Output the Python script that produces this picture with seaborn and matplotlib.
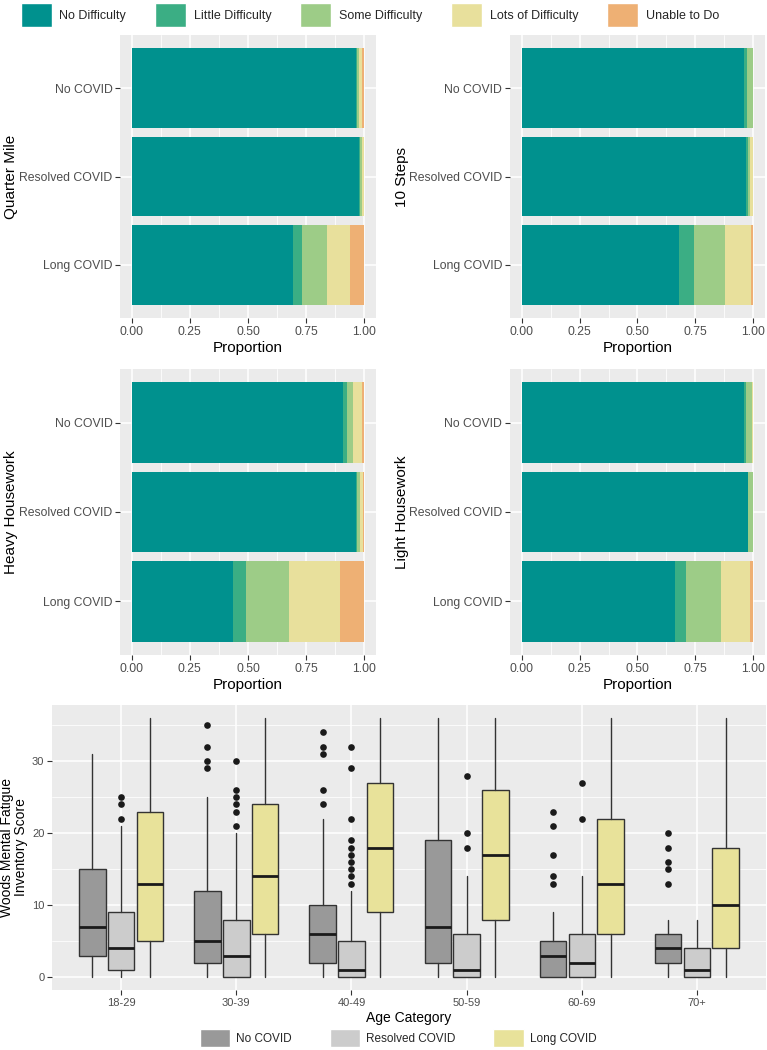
import numpy as np
import pandas as pd
import matplotlib
matplotlib.use("Agg")
import matplotlib.pyplot as plt
import seaborn as sns
from matplotlib.patches import Patch
from matplotlib.ticker import MultipleLocator

# difficulty levels and groups
levels = ["No Difficulty", "Little Difficulty", "Some Difficulty", "Lots of Difficulty", "Unable to Do"]
level_colors = ["#00918E", "#3BAE84", "#9DCC87", "#E8E09C", "#EEB074"]
groups = ["No COVID", "Resolved COVID", "Long COVID"]

# proportions per group (rows: No, Resolved, Long COVID)
quarter_mile = [[0.963, 0.005, 0.010, 0.013, 0.009],
                [0.977, 0.006, 0.008, 0.006, 0.003],
                [0.691, 0.040, 0.107, 0.102, 0.060]]
ten_steps = [[0.960, 0.013, 0.025, 0.001, 0.001],
             [0.969, 0.009, 0.008, 0.011, 0.003],
             [0.679, 0.063, 0.137, 0.110, 0.011]]
heavy_housework = [[0.906, 0.021, 0.022, 0.042, 0.009],
                   [0.962, 0.008, 0.011, 0.015, 0.004],
                   [0.437, 0.054, 0.183, 0.220, 0.106]]
light_housework = [[0.961, 0.006, 0.026, 0.007, 0.000],
                   [0.975, 0.003, 0.019, 0.002, 0.001],
                   [0.663, 0.047, 0.151, 0.125, 0.014]]

# fatigue score summaries by age
ages = ["18-29", "30-39", "40-49", "50-59", "60-69", "70+"]
status = ["No COVID", "Resolved COVID", "Long COVID"]
status_colors = ["#999999", "#CCCCCC", "#E8E29A"]

no_covid_lo = [0, 0, 0, 0, 0, 0]
no_covid_q1 = [3, 2, 2, 2, 0, 2]
no_covid_med = [7, 5, 6, 7, 3, 4]
no_covid_q3 = [15, 12, 10, 19, 5, 6]
no_covid_hi = [31, 25, 22, 36, 9, 8]
no_covid_fliers = [[], [35, 32, 30, 29], [34, 32, 31, 26, 24], [],
                   [23, 21, 17, 14, 13], [20, 18, 16, 15, 13]]

resolved_lo = [0, 0, 0, 0, 0, 0]
resolved_q1 = [1, 0, 0, 0, 0, 0]
resolved_med = [4, 3, 1, 1, 2, 1]
resolved_q3 = [9, 8, 5, 6, 6, 4]
resolved_hi = [21, 20, 12, 14, 14, 8]
resolved_fliers = [[25, 24, 22], [30, 26, 25, 24, 23, 21],
                   [32, 29, 22, 19, 18, 17, 16, 15, 14, 13],
                   [28, 20, 18], [27, 22], []]

long_lo = [0, 0, 0, 0, 0, 0]
long_q1 = [5, 6, 9, 8, 6, 4]
long_med = [13, 14, 18, 17, 13, 10]
long_q3 = [23, 24, 27, 26, 22, 18]
long_hi = [36, 36, 36, 36, 36, 36]
long_fliers = [[], [], [], [], [], []]

sns.set_theme(style="darkgrid", rc={"axes.facecolor": "#EBEBEB", "grid.color": "white"})
plt.rcParams['font.family'] = ['Liberation Sans', 'DejaVu Sans']

fig = plt.figure(figsize=(7.67, 10.5), dpi=100)

def style_ax(ax, labelsize):
    for s in ax.spines.values():
        s.set_visible(False)
    ax.set_axisbelow(True)
    ax.tick_params(which='major', bottom=True, left=True, length=3.5, width=0.8,
                   color='#333333', labelcolor='#4D4D4D', pad=2, labelsize=labelsize)
    ax.tick_params(which='minor', length=0)
    ax.grid(which='major', color='white', linewidth=1.1)
    ax.grid(which='minor', color='white', linewidth=0.55)

def bar_panel(rect, data, ylabel, label_x):
    ax = fig.add_axes(rect)
    df = pd.DataFrame(data, columns=levels)
    df['group'] = groups
    cum = df[levels].cumsum(axis=1)
    for lev, col in reversed(list(zip(levels, level_colors))):
        sns.barplot(x=cum[lev], y=df['group'], color=col, orient='h', width=0.9,
                    linewidth=0, saturation=1, errorbar=None, ax=ax)
    ax.set_xlim(-0.05, 1.05)
    ax.set_ylim(2.6, -0.6)
    ax.set_xticks([0, 0.25, 0.5, 0.75, 1.0])
    ax.set_xticklabels(["0.00", "0.25", "0.50", "0.75", "1.00"])
    ax.xaxis.set_minor_locator(MultipleLocator(0.125))
    style_ax(ax, 8.8)
    ax.yaxis.grid(True, which='major', color='white', linewidth=1.1)
    ax.set_xlabel("Proportion", fontsize=11, color='black')
    ax.xaxis.set_label_coords(0.5, -0.08)
    ax.set_ylabel(ylabel, fontsize=11, color='black')
    ax.yaxis.set_label_coords(label_x, 0.5)
    return ax

bar_panel([0.1565, 0.6971, 0.3338, 0.2695], quarter_mile, "Quarter Mile", -0.40)
bar_panel([0.6649, 0.6971, 0.3325, 0.2695], ten_steps, "10 Steps", -0.395)
bar_panel([0.1565, 0.3762, 0.3338, 0.2724], heavy_housework, "Heavy Housework", -0.40)
bar_panel([0.6649, 0.3762, 0.3325, 0.2724], light_housework, "Light Housework", -0.395)

fig.legend([Patch(facecolor=c) for c in level_colors], levels, loc='center',
           bbox_to_anchor=(0.482, 0.9857), ncol=5, frameon=False, fontsize=9,
           handlelength=2.5, handleheight=2.5, handletextpad=0.6, columnspacing=2.3,
           borderpad=0.1)

# box plot panel
ax = fig.add_axes([0.0678, 0.0571, 0.9309, 0.2714])
series = [
    (no_covid_lo, no_covid_q1, no_covid_med, no_covid_q3, no_covid_hi, no_covid_fliers),
    (resolved_lo, resolved_q1, resolved_med, resolved_q3, resolved_hi, resolved_fliers),
    (long_lo, long_q1, long_med, long_q3, long_hi, long_fliers),
]
offsets = [-0.25, 0.0, 0.25]
for (lo, q1, med, q3, hi, fl), off, col in zip(series, offsets, status_colors):
    stats = [dict(whislo=lo[i], q1=q1[i], med=med[i], q3=q3[i], whishi=hi[i], fliers=fl[i])
             for i in range(len(ages))]
    ax.bxp(stats, positions=np.arange(len(ages)) + off, widths=0.23, patch_artist=True,
           showcaps=False, manage_ticks=False,
           boxprops=dict(facecolor=col, edgecolor='#333333', linewidth=1.0),
           medianprops=dict(color='#1A1A1A', linewidth=2.0),
           whiskerprops=dict(color='#333333', linewidth=1.0),
           flierprops=dict(marker='o', markerfacecolor='#1A1A1A', markeredgecolor='none',
                           markersize=4.8))
ax.set_xlim(-0.6, len(ages) - 0.4)
ax.set_ylim(-1.8, 37.8)
ax.set_xticks(np.arange(len(ages)))
ax.set_xticklabels(ages)
ax.set_yticks([0, 10, 20, 30])
ax.yaxis.set_minor_locator(MultipleLocator(5))
style_ax(ax, 8)
ax.set_xlabel("Age Category", fontsize=10, color='black')
ax.xaxis.set_label_coords(0.5, -0.075)
ax.set_ylabel("Woods Mental Fatigue\nInventory Score", fontsize=10, color='black', linespacing=1.05)
ax.yaxis.set_label_coords(-0.033, 0.5)

fig.legend([Patch(facecolor=c) for c in status_colors], status, loc='center',
           bbox_to_anchor=(0.519, 0.0114), ncol=3, frameon=False, fontsize=8.5,
           handlelength=2.6, handleheight=1.9, handletextpad=0.5, columnspacing=3.2)

fig.savefig("out.png", dpi=100)
